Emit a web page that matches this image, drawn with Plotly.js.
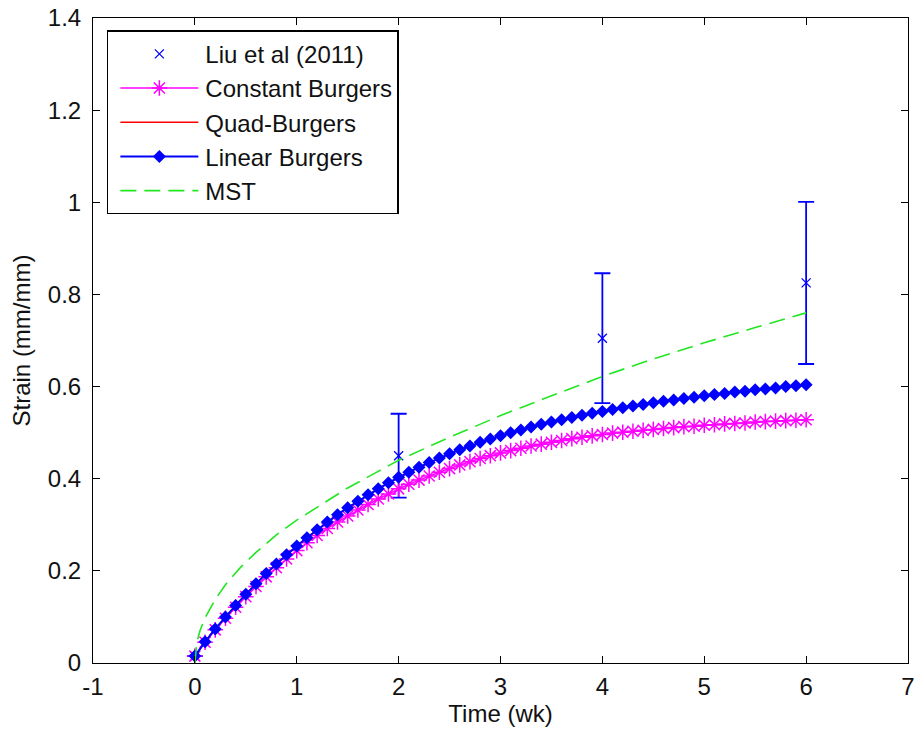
<!DOCTYPE html>
<html>
<head>
<meta charset="utf-8">
<script src="https://cdn.plot.ly/plotly-3.0.1.min.js"></script>
<style>html,body{margin:0;padding:0;background:#fff;}#chart{width:919px;height:735px;}</style>
</head>
<body>
<div id="chart"></div>
<script>
// Experimental data (Liu et al 2011)
const liuTime = [0, 2, 4, 6];
const liuStrain = [0.015, 0.45, 0.705, 0.825];
const liuError = [0, 0.091, 0.141, 0.176];

// Model time base (weeks)
const modelTime = [0,0.1,0.2,0.3,0.4,0.5,0.6,0.7,0.8,0.9,1.0,1.1,1.2,1.3,1.4,1.5,1.6,1.7,1.8,1.9,2.0,2.1,2.2,2.3,2.4,2.5,2.6,2.7,2.8,2.9,3.0,3.1,3.2,3.3,3.4,3.5,3.6,3.7,3.8,3.9,4.0,4.1,4.2,4.3,4.4,4.5,4.6,4.7,4.8,4.9,5.0,5.1,5.2,5.3,5.4,5.5,5.6,5.7,5.8,5.9,6.0];

const constantBurgers = [0.015,0.045,0.072,0.097,0.121,0.144,0.166,0.187,0.207,0.226,0.244,0.261,0.277,0.292,0.306,0.319,0.332,0.344,0.356,0.367,0.378,0.388,0.397,0.406,0.414,0.422,0.430,0.437,0.444,0.450,0.456,0.461,0.466,0.471,0.475,0.479,0.483,0.487,0.490,0.493,0.496,0.499,0.501,0.503,0.505,0.507,0.509,0.511,0.513,0.514,0.516,0.517,0.519,0.520,0.521,0.523,0.524,0.525,0.526,0.527,0.528];

const quadBurgers = [0.015,0.046,0.074,0.100,0.125,0.149,0.172,0.194,0.215,0.235,0.254,0.272,0.289,0.306,0.322,0.337,0.351,0.365,0.378,0.391,0.403,0.414,0.425,0.435,0.445,0.454,0.463,0.471,0.479,0.486,0.493,0.500,0.506,0.512,0.518,0.523,0.528,0.533,0.538,0.542,0.546,0.550,0.554,0.558,0.561,0.565,0.568,0.571,0.574,0.577,0.580,0.583,0.585,0.588,0.590,0.593,0.595,0.597,0.600,0.602,0.604];

const linearBurgers = [0.015,0.046,0.074,0.100,0.125,0.149,0.172,0.194,0.215,0.235,0.254,0.272,0.289,0.306,0.322,0.337,0.351,0.365,0.378,0.391,0.403,0.414,0.425,0.435,0.445,0.454,0.463,0.471,0.479,0.486,0.493,0.500,0.506,0.512,0.518,0.523,0.528,0.533,0.538,0.542,0.546,0.550,0.554,0.558,0.561,0.565,0.568,0.571,0.574,0.577,0.580,0.583,0.585,0.588,0.590,0.593,0.595,0.597,0.600,0.602,0.604];

const mstTime = [0,0.02,0.05,0.1,0.2,0.3,0.45,0.6,0.8,1.0,1.25,1.5,1.75,2.0,2.5,3.0,3.5,4.0,4.5,5.0,5.5,6.0];
const mstStrain = [0,0.045,0.07,0.098,0.138,0.17,0.208,0.24,0.278,0.31,0.345,0.38,0.41,0.44,0.49,0.537,0.58,0.622,0.66,0.695,0.728,0.76];

const seriesNames = ['Liu et al (2011)', 'Constant Burgers', 'Quad-Burgers', 'Linear Burgers', 'MST'];
const xTicks = [-1,0,1,2,3,4,5,6,7];
const yTicks = [0,0.2,0.4,0.6,0.8,1,1.2,1.4];

const traces = [
  {
    x: liuTime, y: liuStrain, name: seriesNames[0], mode: 'markers', type: 'scatter', legendgroup: 'a',
    marker: {symbol: 'x-thin-open', size: 9, color: '#0000ff', line: {color: '#0000ff', width: 1.3}},
    error_y: {type: 'data', array: liuError, visible: true, color: '#0000ff', thickness: 1.8, width: 8}
  },
  {
    x: modelTime, y: constantBurgers, name: seriesNames[1], mode: 'lines+markers', type: 'scatter', legendgroup: 'b',
    line: {color: '#ff00ff', width: 1.5},
    marker: {symbol: 'asterisk-open', size: 13, color: '#ff00ff', line: {color: '#ff00ff', width: 1.5}}
  },
  {
    x: modelTime, y: quadBurgers, name: seriesNames[2], mode: 'lines', type: 'scatter', legendgroup: 'c',
    line: {color: '#ff0000', width: 1.5}
  },
  {
    x: modelTime, y: linearBurgers, name: seriesNames[3], mode: 'lines+markers', type: 'scatter', legendgroup: 'd',
    line: {color: '#0000ff', width: 2},
    marker: {symbol: 'diamond', size: 10, color: '#0000ff'}
  },
  {
    x: mstTime, y: mstStrain, name: seriesNames[4], mode: 'lines', type: 'scatter', legendgroup: 'e',
    line: {color: '#22e622', width: 1.6, dash: '16px,8px'}
  }
];

const fontFamily = 'Liberation Sans, Arial, sans-serif';
const axisFont = {family: fontFamily, size: 24, color: '#111'};

const layout = {
  width: 919, height: 735,
  margin: {l: 93, r: 11, t: 18, b: 72},
  paper_bgcolor: '#fff', plot_bgcolor: '#fff',
  showlegend: true,
  font: axisFont,
  xaxis: {
    range: [-1, 7], tickvals: xTicks, ticktext: xTicks.map(String),
    ticks: 'inside', ticklen: 7, tickcolor: '#000', showline: true, linecolor: '#000', linewidth: 1,
    mirror: 'allticks', showgrid: false, zeroline: false, tickfont: axisFont, ticklabelstandoff: 2,
    title: {text: 'Time (wk)', font: axisFont, standoff: 4}
  },
  yaxis: {
    range: [0, 1.4], tickvals: yTicks, ticktext: yTicks.map(String),
    ticks: 'inside', ticklen: 7, tickcolor: '#000', showline: true, linecolor: '#000', linewidth: 1,
    mirror: 'allticks', showgrid: false, zeroline: false, tickfont: axisFont, ticklabelstandoff: 6,
    title: {text: 'Strain (mm/mm)', font: axisFont, standoff: 10}
  },
  legend: {
    x: 0.017, y: 0.981, xanchor: 'left', yanchor: 'top',
    bgcolor: '#fff', bordercolor: '#000', borderwidth: 1.5,
    font: {family: fontFamily, size: 24, color: '#111'},
    tracegroupgap: 0, itemwidth: 87
  }
};

Plotly.newPlot('chart', traces, layout, {displayModeBar: false, staticPlot: true}).then(function (gd) {
  // lengthen legend sample lines to match the reference
  gd.querySelectorAll('.legend .traces').forEach(function (tr) {
    tr.querySelectorAll('.legendlines path').forEach(function (p) {
      p.setAttribute('d', 'M12,0h78');
    });
    tr.querySelectorAll('.legendpoints path').forEach(function (p) {
      p.setAttribute('transform', 'translate(51,0)');
    });
  });
});
</script>
</body>
</html>
